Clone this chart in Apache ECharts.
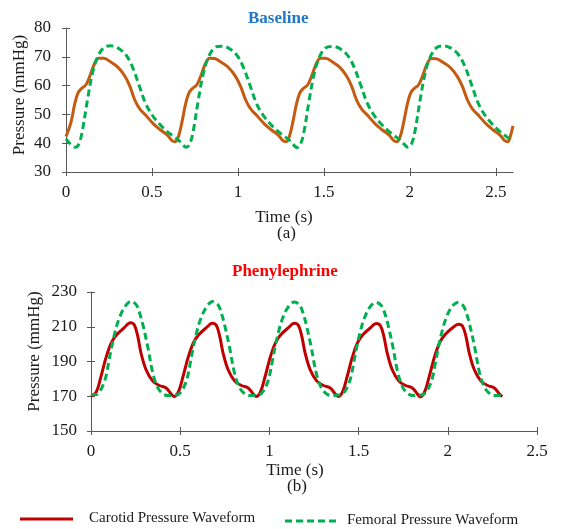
<!DOCTYPE html>
<html>
<head>
<meta charset="utf-8">
<script src="https://cdn.jsdelivr.net/npm/echarts@6/dist/echarts.min.js"></script>
<style>html,body{margin:0;padding:0;background:#fff}#c{width:580px;height:529px}</style>
</head>
<body>
<div id="c"></div>
<script>
// ---- Data ----
const xTicksTop = [0, 0.5, 1, 1.5, 2, 2.5];
const xTicksBottom = [0, 0.5, 1, 1.5, 2, 2.5];

// (a) Baseline
const baseCarotidT = [0,0.03,0.05,0.07,0.09,0.115,0.14,0.165,0.19,0.22,0.26,0.3,0.34,0.37,0.4,0.43,0.47,0.51,0.55,0.59,0.615,0.635,
  0.655,0.675,0.695,0.715,0.735,0.76,0.785,0.81,0.835,0.865,0.905,0.945,0.985,1.015,1.045,1.075,1.115,1.155,1.195,1.235,1.26,1.28,
  1.3,1.32,1.34,1.36,1.38,1.405,1.43,1.455,1.48,1.51,1.55,1.59,1.63,1.66,1.69,1.72,1.76,1.8,1.84,1.88,1.905,1.925,
  1.945,1.965,1.985,2.005,2.025,2.05,2.075,2.1,2.125,2.155,2.195,2.235,2.275,2.305,2.335,2.365,2.405,2.445,2.485,2.525,2.55,2.57,2.585,2.6];
const baseCarotidP = [42.3,47.5,53.5,57.5,59,60.2,63.5,67.5,69.5,69.5,68.2,66.5,63.5,60,55,51.8,49.3,46.6,44.6,42.8,41,40.5,
  42.5,47.5,53.5,57.5,59,60.2,63.5,67.5,69.5,69.4,68,66.3,63.3,59.8,55,51.8,49.3,46.6,44.6,42.8,41,40.5,
  42.5,47.5,53.5,57.5,59,60.2,63.5,67.5,69.5,69.5,68.2,66.5,63.5,60,55,51.8,49.3,46.6,44.6,42.8,41,40.5,
  42.5,47.5,53.5,57.5,59,60.2,63.5,67.5,69.4,69.3,68,66.3,63.3,59.8,55,51.8,49.3,46.6,44.6,42.8,41,40.5,42.5,46];
const baseFemoralT = [0,0.025,0.055,0.075,0.094,0.123,0.152,0.182,0.22,0.259,0.298,0.347,0.385,0.424,0.463,0.502,0.541,0.58,0.618,0.657,0.7,
  0.72,0.739,0.768,0.797,0.827,0.865,0.904,0.943,0.992,1.03,1.069,1.108,1.147,1.186,1.225,1.263,1.302,1.345,
  1.365,1.384,1.413,1.442,1.472,1.51,1.549,1.588,1.637,1.675,1.714,1.753,1.792,1.831,1.87,1.908,1.947,1.99,
  2.01,2.029,2.058,2.087,2.117,2.155,2.194,2.233,2.282,2.32,2.359,2.398,2.437,2.476,2.515,2.553,2.6];
const baseFemoralP = [41.5,39.8,38.6,39.8,43.9,54.4,63.8,69.7,73.2,73.8,73.2,70.8,66.7,60.3,53.8,49.7,46.8,44.5,42.7,40.9,38.6,
  39.8,43.9,54.4,63.8,69.7,73.2,73.7,73.1,70.7,66.6,60.3,53.8,49.7,46.8,44.5,42.7,40.9,38.5,
  39.8,43.9,54.4,63.8,69.7,73.1,73.6,73,70.6,66.5,60.2,53.8,49.7,46.8,44.5,42.7,40.9,38.6,
  39.8,43.9,54.4,63.8,69.7,73.2,73.8,73.2,70.8,66.7,60.3,53.8,49.7,46.8,44.5,42.7,40.5];

// (b) Phenylephrine
const pheCarotidT = [0,0.03,0.055,0.085,0.115,0.145,0.185,0.22,0.243,0.262,0.28,0.308,0.346,0.383,0.421,0.448,0.465,
  0.49,0.515,0.545,0.575,0.605,0.645,0.68,0.703,0.722,0.74,0.768,0.806,0.843,0.881,0.908,0.925,
  0.95,0.975,1.005,1.035,1.065,1.105,1.14,1.163,1.182,1.2,1.228,1.266,1.303,1.341,1.368,1.385,
  1.41,1.435,1.465,1.495,1.525,1.565,1.6,1.623,1.642,1.66,1.688,1.726,1.763,1.801,1.828,1.845,
  1.87,1.895,1.925,1.955,1.985,2.025,2.06,2.083,2.102,2.12,2.148,2.186,2.223,2.261,2.288,2.305];
const pheCarotidP = [170,172.5,181,192.5,201,205.5,209.3,212.3,211,204.6,195,185.4,178.7,176.2,174.8,171.5,169.8,
  172.5,181,192.5,201,205.5,209.3,212,210.7,204.3,195,185.4,178.7,176.2,174.8,171.5,169.8,
  172.5,181,192.5,201,205.5,209.3,212,210.7,204.3,195,185.4,178.7,176.2,174.8,171.5,169.8,
  172.5,181,192.5,201,205.5,209.3,211.8,210.5,204.3,195,185.4,178.7,176.2,174.8,171.5,169.6,
  172.5,181,192.5,201,205.5,209.3,211.5,210.3,204.3,195,185.4,178.7,176.2,174.8,171.5,169.8];
const pheFemoralT = [0,0.03,0.05,0.07,0.084,0.1,0.115,0.135,0.155,0.187,0.224,0.255,0.275,0.29,0.318,0.346,0.374,0.405,0.435,
  0.458,0.488,0.508,0.528,0.542,0.558,0.573,0.593,0.613,0.645,0.682,0.713,0.733,0.748,0.776,0.804,0.832,0.863,0.893,
  0.916,0.946,0.966,0.986,1.0,1.016,1.031,1.051,1.071,1.103,1.14,1.171,1.191,1.206,1.234,1.262,1.29,1.321,1.351,
  1.374,1.404,1.424,1.444,1.458,1.474,1.489,1.509,1.529,1.561,1.598,1.629,1.649,1.664,1.692,1.72,1.748,1.779,1.809,
  1.832,1.862,1.882,1.902,1.916,1.932,1.947,1.967,1.987,2.019,2.056,2.087,2.107,2.122,2.15,2.178,2.206,2.237,2.267,2.31];
const pheFemoralP = [171,171,173,177,181.5,190,198,207,214,221,224.6,222.5,217,211.5,198.5,183.5,175,171.3,170.4,
  170.6,171,173,177,181.5,190,198,207,214,221,224.5,222.5,217,211.5,198.5,183.5,175,171.3,170.4,
  170.6,171,173,177,181.5,190,198,207,214,221,224.2,222.2,217,211.5,198.5,183.5,175,171.3,170.4,
  170.6,171,173,177,181.5,190,198,207,214,221,224,222,217,211.5,198.5,183.5,175,171.3,170.4,
  170.6,171,173,177,181.5,190,198,207,214,221,224,222,217,211.5,198.5,183.5,175,171.3,170.4,170.8];

const NAME_C = 'Carotid Pressure Waveform';
const NAME_F = 'Femoral Pressure Waveform';

function zip(t, p) { return t.map((x, i) => [x, p[i]]); }

const FONT = 'Liberation Serif';
const FS = 17;
const AXIS_COLOR = '#595959';
const TXT = '#1a1a1a';
const DASH = [7, 4];

function xAxis(gridIndex, max, ticks, nameGap, namePad, labelMargin) {
  return {
    type: 'value', gridIndex, position: 'bottom', min: 0, max, interval: 0.5,
    name: 'Time (s)', nameLocation: 'middle', nameGap,
    nameTextStyle: { fontFamily: FONT, fontSize: FS, color: TXT, padding: namePad },
    axisLine: { show: true, lineStyle: { color: AXIS_COLOR, width: 1 } },
    axisTick: { show: true, length: 4, lineStyle: { color: AXIS_COLOR }, customValues: ticks },
    axisLabel: { fontFamily: FONT, fontSize: FS, color: TXT, margin: labelMargin, customValues: ticks },
    splitLine: { show: false }
  };
}
// companion axis that draws the inner half of the cross tick marks
function xAxisInner(gridIndex, max, ticks) {
  return {
    type: 'value', gridIndex, position: 'bottom', offset: 0, min: 0, max, interval: 0.5,
    axisLine: { show: false, onZero: false }, axisLabel: { show: false }, splitLine: { show: false },
    axisTick: { show: true, inside: true, length: 4, lineStyle: { color: AXIS_COLOR }, customValues: ticks }
  };
}
function yAxis(gridIndex, min, max, interval, nameGap, namePad, labelMargin) {
  return {
    type: 'value', gridIndex, position: 'left', min, max, interval,
    name: 'Pressure (mmHg)', nameLocation: 'middle', nameGap, nameMoveOverlap: false,
    nameTextStyle: { fontFamily: FONT, fontSize: FS, color: TXT, padding: namePad },
    axisLine: { show: true, lineStyle: { color: AXIS_COLOR, width: 1 } },
    axisTick: { show: true, length: 4, lineStyle: { color: AXIS_COLOR } },
    axisLabel: { fontFamily: FONT, fontSize: FS, color: TXT, margin: labelMargin },
    splitLine: { show: false }
  };
}
function yAxisInner(gridIndex, min, max, interval) {
  return {
    type: 'value', gridIndex, position: 'left', offset: 0, min, max, interval,
    axisLine: { show: false, onZero: false }, axisLabel: { show: false }, splitLine: { show: false },
    axisTick: { show: true, inside: true, length: 4, lineStyle: { color: AXIS_COLOR } }
  };
}

const chart = echarts.init(document.getElementById('c'), null, { renderer: 'canvas' });
chart.setOption({
  backgroundColor: '#ffffff',
  animation: false,
  title: [
    { text: 'Baseline', left: 248, top: 10, padding: 0,
      textStyle: { fontFamily: FONT, fontSize: FS, fontWeight: 'bold', color: '#1F77C8' } },
    { text: 'Phenylephrine', left: 232, top: 263, padding: 0,
      textStyle: { fontFamily: FONT, fontSize: FS, fontWeight: 'bold', color: '#FF0000' } }
  ],
  grid: [
    { left: 66, top: 28, width: 447, height: 144, containLabel: false, outerBoundsMode: 'none' },
    { left: 91, top: 292, width: 446, height: 139, containLabel: false, outerBoundsMode: 'none' }
  ],
  xAxis: [
    xAxis(0, 2.6, xTicksTop, 37, [0, 11, 0, 0], 12),
    xAxis(1, 2.5, xTicksBottom, 31, [0, 38, 0, 0], 12),
    xAxisInner(0, 2.6, xTicksTop),
    xAxisInner(1, 2.5, xTicksBottom)
  ],
  yAxis: [
    yAxis(0, 30, 80, 10, 38, [0, 0, 0, 10], 15),
    yAxis(1, 150, 230, 20, 48, [0, 0, 0, 20], 14),
    yAxisInner(0, 30, 80, 10),
    yAxisInner(1, 150, 230, 20)
  ],
  graphic: [
    { type: 'text', left: 277, top: 225, style: { text: '(a)', font: '17px "Liberation Serif"', fill: TXT } },
    { type: 'text', left: 287, top: 478, style: { text: '(b)', font: '17px "Liberation Serif"', fill: TXT } },
    // legend
    { type: 'line', shape: { x1: 20, y1: 519, x2: 73, y2: 519 }, style: { stroke: '#C00000', lineWidth: 3 } },
    { type: 'text', left: 89, top: 511, style: { text: NAME_C, font: '15px "Liberation Serif"', fill: TXT } },
    { type: 'line', shape: { x1: 285, y1: 521, x2: 337, y2: 521 }, style: { stroke: '#00B050', lineWidth: 3, lineDash: DASH } },
    { type: 'text', left: 347, top: 513, style: { text: NAME_F, font: '15px "Liberation Serif"', fill: TXT } }
  ],
  series: [
    { name: NAME_C, type: 'line', xAxisIndex: 0, yAxisIndex: 0, data: zip(baseCarotidT, baseCarotidP),
      showSymbol: false, symbol: 'none', smooth: 0.35, lineStyle: { color: '#C55A11', width: 3 }, itemStyle: { color: '#C55A11' }, z: 2 },
    { name: NAME_F, type: 'line', xAxisIndex: 0, yAxisIndex: 0, data: zip(baseFemoralT, baseFemoralP),
      showSymbol: false, symbol: 'none', smooth: 0.35, lineStyle: { color: '#00B050', width: 3, type: DASH }, itemStyle: { color: '#00B050' }, z: 3 },
    { name: NAME_C, type: 'line', xAxisIndex: 1, yAxisIndex: 1, data: zip(pheCarotidT, pheCarotidP),
      showSymbol: false, symbol: 'none', smooth: 0.35, lineStyle: { color: '#C00000', width: 3 }, itemStyle: { color: '#C00000' }, z: 2 },
    { name: NAME_F, type: 'line', xAxisIndex: 1, yAxisIndex: 1, data: zip(pheFemoralT, pheFemoralP),
      showSymbol: false, symbol: 'none', smooth: 0.35, lineStyle: { color: '#00B050', width: 3, type: DASH }, itemStyle: { color: '#00B050' }, z: 3 }
  ]
});
</script>
</body>
</html>
